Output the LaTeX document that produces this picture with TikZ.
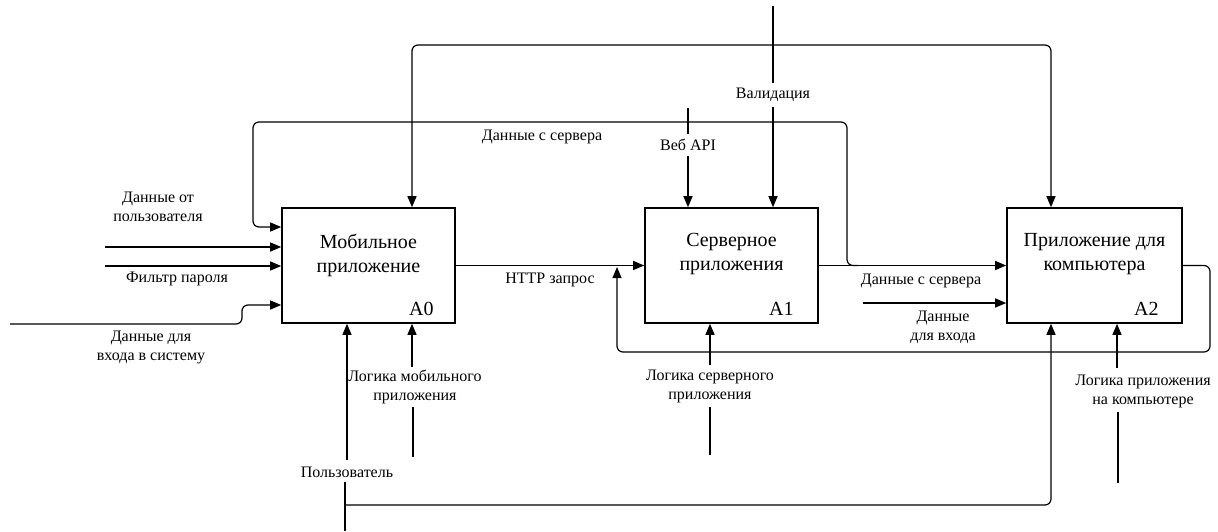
\documentclass[tikz,border=0pt]{standalone}
\usepackage{fontspec}
\setmainfont{Liberation Serif}
\usetikzlibrary{arrows.meta}
\begin{document}
\begin{tikzpicture}[x=1pt,y=-1pt,
  >={Triangle[length=11pt,width=9pt]},
  line/.style={line width=1.2pt, draw=black},
  arr/.style={line, ->},
  roundbend/.style={rounded corners=6pt},
  func/.style={draw, line width=1.6pt, minimum width=173pt, minimum height=115pt, inner sep=0pt},
  title/.style={font=\fontsize{20}{24}\selectfont, align=center},
  num/.style={font=\fontsize{20}{24}\selectfont, anchor=base east, inner sep=0pt},
  lbl/.style={font=\fontsize{16}{19}\selectfont, align=center, inner sep=0pt},
  ]
\useasboundingbox (0,0) rectangle (1218,531);

% function boxes
\node[func] (a0) at (368.5,265.5) {};
\node[func] (a1) at (731.5,265.5) {};
\node[func, minimum width=175pt] (a2) at (1094.5,265.5) {};

\node[title] (a0t) at (368.5,255) {Мобильное\\приложение};
\node[title] (a1t) at (731.5,254) {Серверное\\приложения};
\node[title] (a2t) at (1094.5,254) {Приложение для\\компьютера};

\node[num] (a0n) at ([xshift=-22pt,yshift=8pt]a0.south east) {A0};
\node[num] (a1n) at ([xshift=-25pt,yshift=8pt]a1.south east) {A1};
\node[num] (a2n) at ([xshift=-24pt,yshift=8pt]a2.south east) {A2};

% inputs of A0
\coordinate (in1) at (105,247);
\coordinate (in2) at (105,266);
\coordinate (in3) at (10,324);
\draw[arr] (in1) -- (in1 -| a0.west);
\draw[arr] (in2) -- (in2 -| a0.west);
\draw[arr, roundbend] (in3) -- (242,324) -- (242,305) -- (a0.west |- 0,305);
\node[lbl] (l1) at (158,207) {Данные от\\пользователя};
\node[lbl] (l2) at (177,279) {Фильтр пароля};
\node[lbl] (l3) at (151,347) {Данные для\\входа в систему};

% A0 -> A1 -> A2
\draw[arr] (a0.east) -- (a1.west);
\node[lbl] (http) at (550,280) {HTTP запрос};
\draw[arr] (a1.east) -- (a2.west);
\node[lbl] (ds2) at (921,281) {Данные с сервера};

% server data back to A0
\draw[arr, roundbend] (858,265.5) -- (847,265.5) -- (847,122) -- (253,122) -- (253,227) -- (a0.west |- 0,227);
\node[lbl] (ds1) at (542,137) {Данные с сервера};

% link between A0 and A2 over the top
\draw[line, <->, roundbend] ([xshift=43.5pt]a0.north) -- (412,45) -- (1051,45) -- ([xshift=-43.5pt]a2.north);

% controls of A1
\coordinate (vsrc) at (773,6);
\node[lbl] (vl) at (773,95) {Валидация};
\draw[line] (vsrc) -- ([yshift=5pt]vl.north);
\draw[arr] ([yshift=-5pt]vl.south) -- (vl.south |- a1.north);

\coordinate (wsrc) at (688,108);
\node[lbl] (wl) at (688,145) {Веб API};
\draw[line] (wsrc) -- ([yshift=5pt]wl.north);
\draw[arr] ([yshift=-5pt]wl.south) -- (wl.south |- a1.north);

% second input of A2
\coordinate (dv) at (863,303);
\draw[arr] (dv) -- (dv -| a2.west);
\node[lbl] (dvl) at (943,327) {Данные\\для входа};

% feedback from A2 to the HTTP request
\coordinate (fb) at (617,267);
\draw[arr, roundbend] (a2.east) -- (1210,265.5) -- (1210,352) -- (617,352) -- (fb);

% mechanisms
\coordinate (usrc) at (345,531);
\node[lbl] (ul) at (347,472) {Пользователь};
\draw[line] (usrc) -- ([yshift=-4pt]usrc |- ul.south);
\draw[arr] ([yshift=6pt]ul.north) -- (ul.north |- a0.south);
\draw[arr, roundbend] (usrc |- 0,505) -- (1051,505) -- ([xshift=-43.5pt]a2.south);

\coordinate (m1a) at (412,367);
\coordinate (m1b) at (413,407);
\coordinate (m1c) at (413,457);
\node[lbl] (m1) at (415,387) {Логика мобильного\\приложения};
\draw[arr] (m1a) -- (a0.south -| m1a);
\draw[line] (m1b) -- (m1c);

\coordinate (m2a) at (710,365);
\coordinate (m2b) at (710,407);
\coordinate (m2c) at (710,455);
\node[lbl] (m2) at (710,386) {Логика серверного\\приложения};
\draw[arr] (m2a) -- (a1.south -| m2a);
\draw[line] (m2b) -- (m2c);

\coordinate (m3a) at (1117,368);
\coordinate (m3b) at (1118,412);
\coordinate (m3c) at (1118,483);
\node[lbl] (m3) at (1143,391) {Логика приложения\\на компьютере};
\draw[arr] (m3a) -- (a2.south -| m3a);
\draw[line] (m3b) -- (m3c);
\end{tikzpicture}
\end{document}
